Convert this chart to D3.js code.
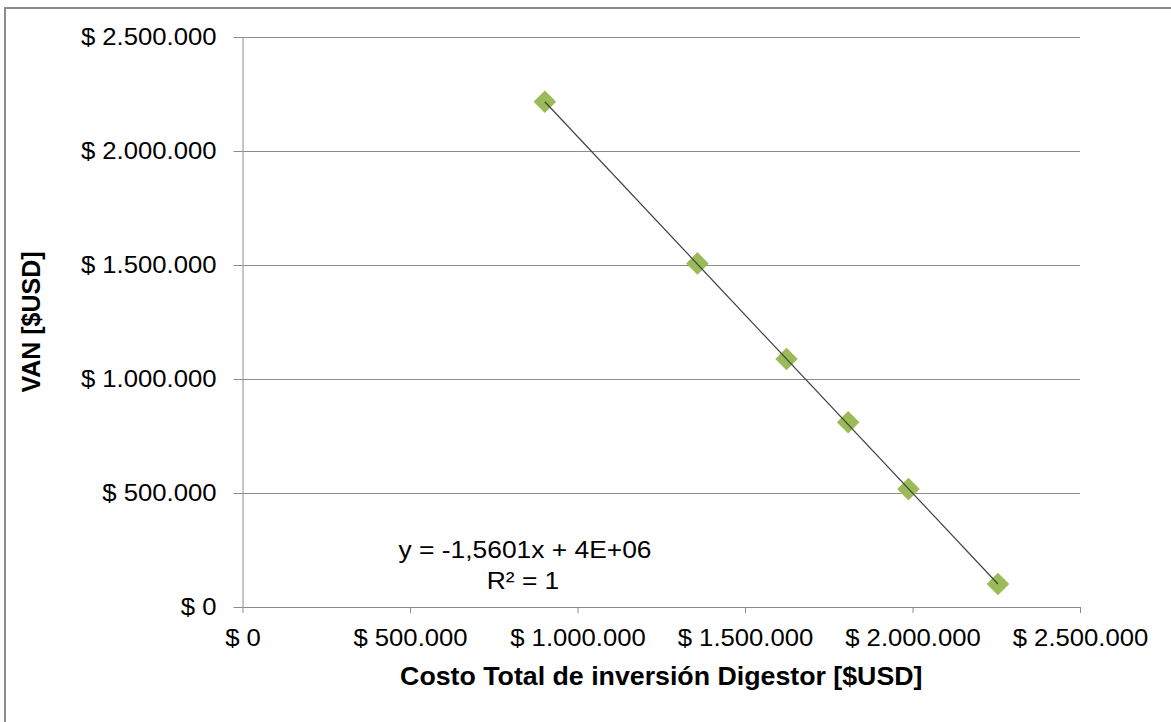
<!DOCTYPE html>
<html>
<head>
<meta charset="utf-8">
<script src="https://cdn.jsdelivr.net/npm/d3@7"></script>
<style>
  html, body { margin: 0; padding: 0; background: #fff; }
  svg { display: block; }
  text { font-family: "Liberation Sans", Arial, sans-serif; fill: #000; }
</style>
</head>
<body>
<svg id="chart" width="1171" height="722"></svg>
<script>
// Investment cost of the digester vs. net present value (USD)
const costoInversion = [902500, 1358000, 1624000, 1808000, 1988000, 2255000];
const van = [2216000, 1507000, 1088000, 810000, 517000, 101000];
const xTicks = [0, 500000, 1000000, 1500000, 2000000, 2500000];
const yTicks = [0, 500000, 1000000, 1500000, 2000000, 2500000];
const ecuacion = ["y = -1,5601x + 4E+06", "R² = 1"];

const svg = d3.select("#chart");
const W = 1171, H = 722;
const plot = { left: 242.5, right: 1080, top: 37, bottom: 607 };
const WIDEN = 1.07; // text is set slightly wide

// Place a text element at (x,y) and widen it horizontally around its anchor
function widen(sel, k) {
  sel.each(function () {
    const t = d3.select(this);
    const tx = +t.attr("x") || 0, ty = +t.attr("y") || 0;
    t.attr("x", 0).attr("y", 0)
      .attr("transform", `translate(${tx},${ty}) scale(${k},1)`);
  });
}

// Chart-area frame
svg.append("rect")
  .attr("x", 5).attr("y", 8)
  .attr("width", W + 10).attr("height", H + 10)
  .attr("fill", "#fff").attr("stroke", "#8c8c8c").attr("stroke-width", 2);

const x = d3.scaleLinear().domain([0, 2500000]).range([plot.left, plot.right]);
const y = d3.scaleLinear().domain([0, 2500000]).range([plot.bottom, plot.top]);

const fmt = v => "$ " + d3.format(",.0f")(v).replace(/,/g, ".");

// Horizontal gridlines
svg.append("g").selectAll("line").data(yTicks.filter(d => d > 0)).join("line")
  .attr("x1", plot.left).attr("x2", plot.right)
  .attr("y1", d => Math.round(y(d)) + 0.5).attr("y2", d => Math.round(y(d)) + 0.5)
  .attr("stroke", "#8c8c8c").attr("stroke-width", 1);

// Y axis
const yAxis = svg.append("g")
  .attr("transform", `translate(${plot.left},0)`)
  .call(d3.axisLeft(y).tickValues(yTicks).tickSize(9).tickPadding(17).tickFormat(fmt));
// X axis
const xAxis = svg.append("g")
  .attr("transform", `translate(0,${plot.bottom})`)
  .call(d3.axisBottom(x).tickValues(xTicks).tickSize(6).tickPadding(16).tickFormat(fmt));

[yAxis, xAxis].forEach(a => {
  a.select(".domain").attr("stroke", "#8c8c8c").attr("stroke-width", 1);
  a.selectAll(".tick line").attr("stroke", "#8c8c8c");
  a.selectAll(".tick text")
    .attr("fill", "#000")
    .style("font-family", "'Liberation Sans', Arial, sans-serif")
    .style("font-size", "24px");
});
yAxis.select(".domain").attr("d", `M0.5,${plot.top}V${plot.bottom}`);
xAxis.select(".domain").attr("d", `M${plot.left},0.5H${plot.right}`);
xAxis.selectAll(".tick text").attr("dy", "0.71em");
widen(yAxis.selectAll(".tick text"), WIDEN);
widen(xAxis.selectAll(".tick text"), WIDEN);

// Diamond markers
const pts = costoInversion.map((c, i) => [c, van[i]]);
const diamond = d3.symbol().type(d3.symbolSquare).size(255);
svg.append("g").selectAll("path").data(pts).join("path")
  .attr("d", diamond)
  .attr("transform", d => `translate(${x(d[0])},${y(d[1])}) rotate(45)`)
  .attr("fill", "#9bbb59");

// Linear trendline through the first and last points
const n = pts.length;
svg.append("line")
  .attr("x1", x(pts[0][0])).attr("y1", y(pts[0][1]))
  .attr("x2", x(pts[n - 1][0])).attr("y2", y(pts[n - 1][1]))
  .attr("stroke", "#404040").attr("stroke-width", 1.2);

// Trendline equation
const eq = svg.append("g");
eq.append("text").attr("x", 525).attr("y", 558).attr("text-anchor", "middle")
  .style("font-size", "24px").text(ecuacion[0]);
eq.append("text").attr("x", 523).attr("y", 589).attr("text-anchor", "middle")
  .style("font-size", "24px").text(ecuacion[1]);
widen(eq.selectAll("text"), 1.1);

// Axis titles
const xTitle = svg.append("text")
  .attr("x", (plot.left + plot.right) / 2).attr("y", 685)
  .attr("text-anchor", "middle")
  .style("font-size", "25px").style("font-weight", "bold")
  .text("Costo Total de inversión Digestor [$USD]");
widen(xTitle, WIDEN);
svg.append("text")
  .attr("transform", `translate(40,${(plot.top + plot.bottom) / 2}) rotate(-90)`)
  .attr("text-anchor", "middle")
  .style("font-size", "25px").style("font-weight", "bold")
  .text("VAN [$USD]");
</script>
</body>
</html>
